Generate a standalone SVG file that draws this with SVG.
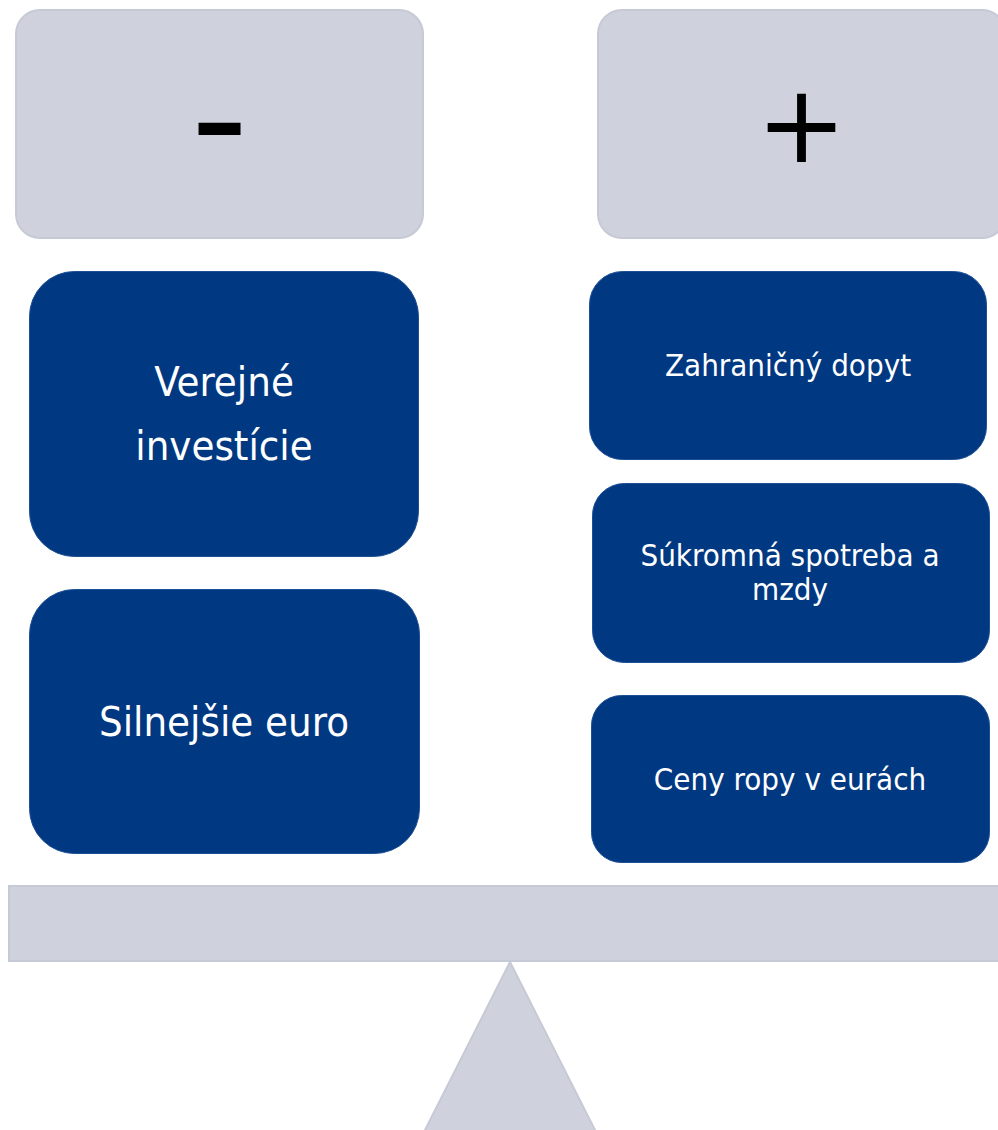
<svg xmlns="http://www.w3.org/2000/svg" width="998" height="1130" viewBox="0 0 998 1130">
<style>
.gray{fill:#cfd2dc;stroke:#c6cad6;stroke-width:2}
.blue{fill:#003882;stroke:#1d4f94;stroke-width:1}
.t{font-family:"DejaVu Sans Condensed","DejaVu Sans",sans-serif;font-stretch:condensed;fill:#ffffff;text-anchor:middle}
.big{font-size:41.5px}
.small{font-size:31px}
.sym{font-family:"DejaVu Sans",sans-serif;fill:#000000;text-anchor:middle}
</style>
<rect width="998" height="1130" fill="#ffffff"/>
<g id="minus-header">
<rect class="gray" x="16" y="10" width="407" height="228" rx="24"/>
<text class="sym" x="219.5" y="167" font-size="145" transform="translate(0,2) translate(219.5,124) scale(1.1,1.05) translate(-219.5,-124)">-</text>
</g>
<g id="plus-header">
<rect class="gray" x="598" y="10" width="408" height="228" rx="24"/>
<text class="sym" x="801.5" y="162" font-size="108">+</text>
</g>
<g id="verejne-investicie">
<rect class="blue" x="29.5" y="271.5" width="389" height="285" rx="45"/>
<text class="t big" x="224" y="396">Verejné</text>
<text class="t big" x="224" y="460">investície</text>
</g>
<g id="silnejsie-euro">
<rect class="blue" x="29.5" y="589.5" width="390" height="264" rx="45"/>
<text class="t big" x="224" y="736">Silnejšie euro</text>
</g>
<g id="zahranicny-dopyt">
<rect class="blue" x="589.5" y="271.5" width="397" height="188" rx="33"/>
<text class="t small" x="788" y="376">Zahraničný dopyt</text>
</g>
<g id="sukromna-spotreba">
<rect class="blue" x="592.5" y="483.5" width="397" height="179" rx="32"/>
<text class="t small" x="790" y="566">Súkromná spotreba a</text>
<text class="t small" x="790" y="600">mzdy</text>
</g>
<g id="ceny-ropy">
<rect class="blue" x="591.5" y="695.5" width="398" height="167" rx="30"/>
<text class="t small" x="790" y="790">Ceny ropy v eurách</text>
</g>
<g id="beam">
<rect class="gray" x="9" y="886" width="1000" height="75"/>
</g>
<g id="fulcrum">
<polygon class="gray" points="510,962 424,1132 596,1132"/>
</g>
<g id="connectors"></g>
</svg>
